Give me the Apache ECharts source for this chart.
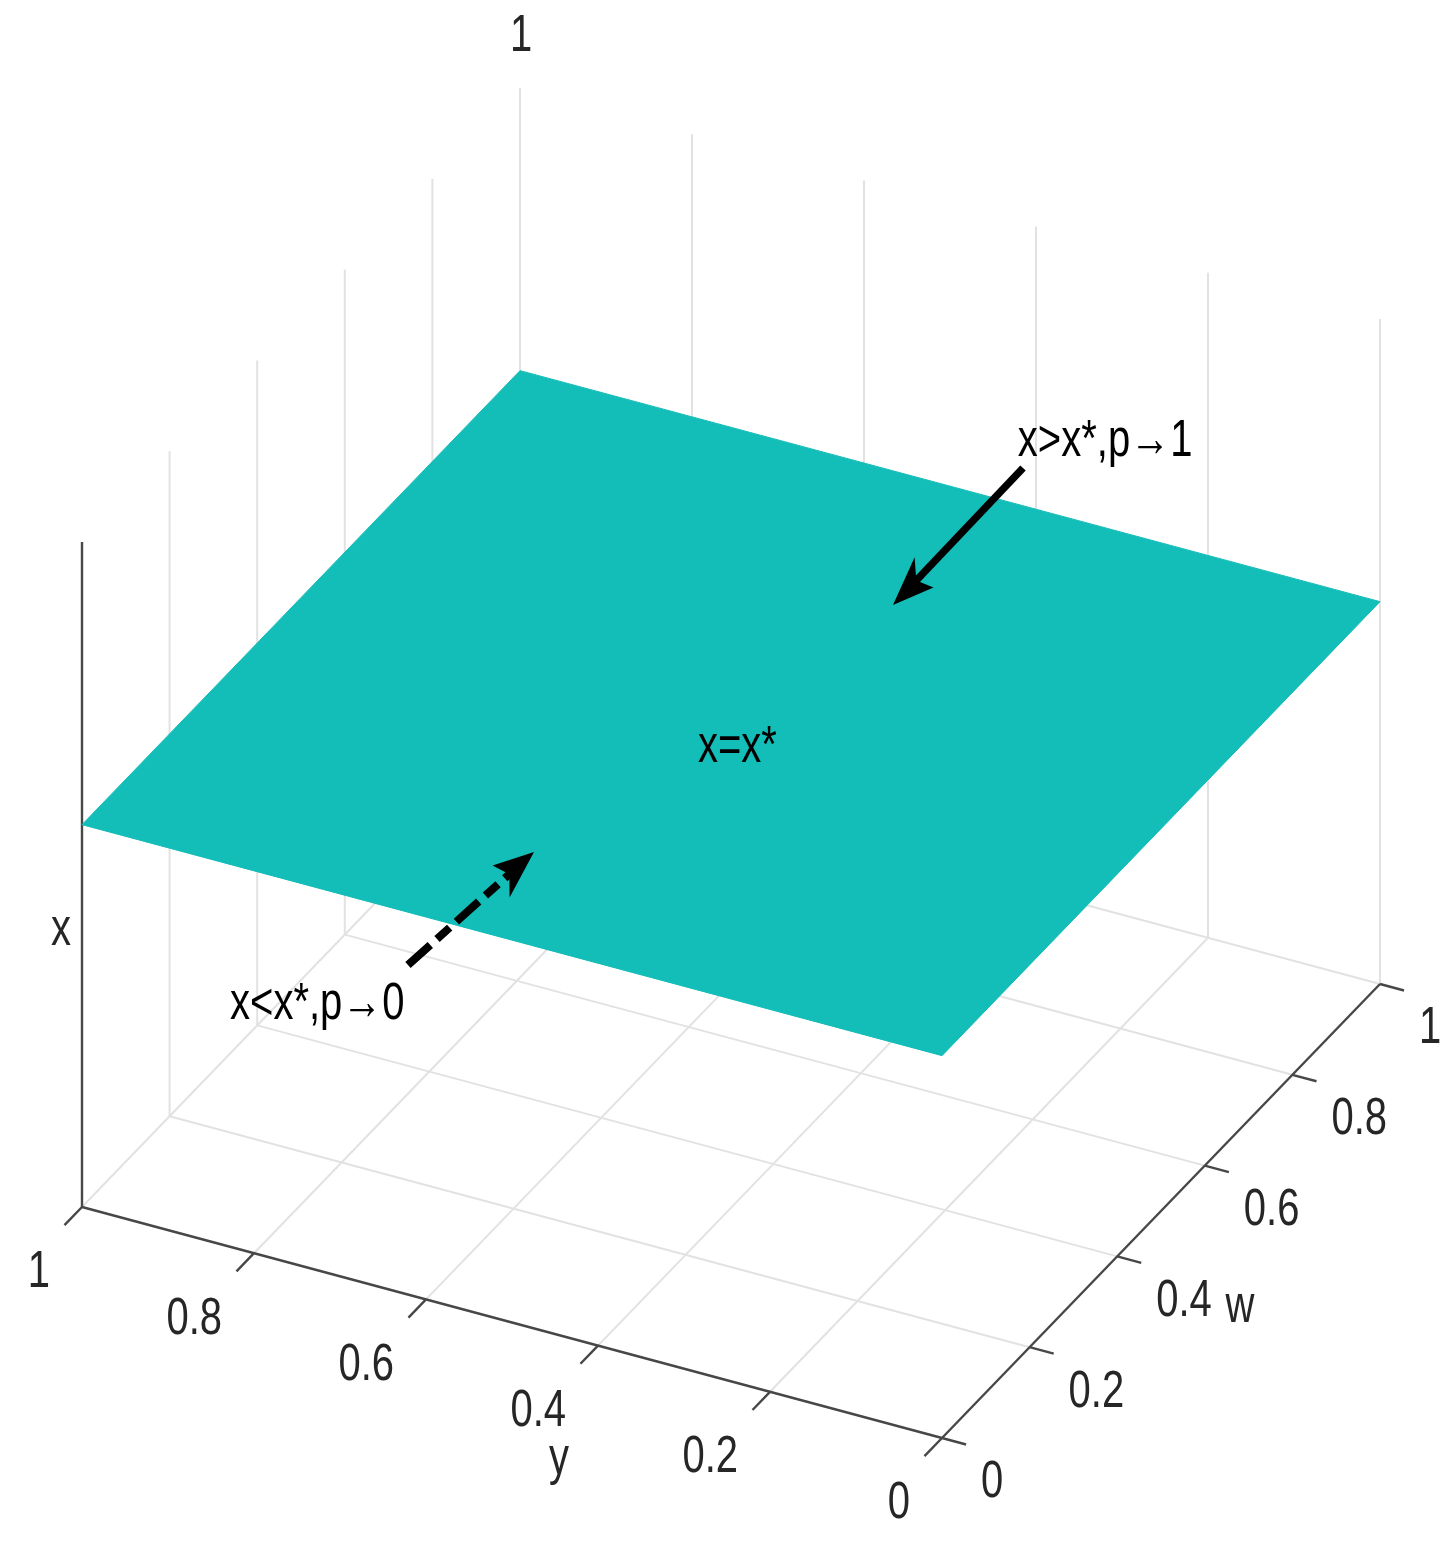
<!DOCTYPE html>
<html><head><meta charset="utf-8">
<script src="https://cdn.jsdelivr.net/npm/echarts@6/dist/echarts.min.js"></script>
<style>html,body{margin:0;padding:0;background:#fff}#chart{width:1455px;height:1553px}</style>
</head><body><div id="chart"></div>
<script>
// ---------------- data ----------------
const yTicks = [0, 0.2, 0.4, 0.6, 0.8, 1];
const yTickLabels = ['0', '0.2', '0.4', '0.6', '0.8', '1'];
const wTicks = [0, 0.2, 0.4, 0.6, 0.8, 1];
const wTickLabels = ['0', '0.2', '0.4', '0.6', '0.8', '1'];
const xTicks = [1];
const xTickLabels = ['1'];
const xStar = 0.575;                 // level of the plane x = x*
const surfY = [0, 1];
const surfW = [0, 1];
const surfX = [[xStar, xStar], [xStar, xStar]];
const annotationTexts = ['x>x*,p\u21921', 'x=x*', 'x<x*,p\u21920'];
const annotationPoints = [[0.396, 1.150, xStar], [0.463, 0.442, xStar], [0.622, -0.205, xStar]]; // (y, w, x)
const arrowFrom = [[0.4487, 1.066, xStar], [0.5739, -0.0924, xStar]];
const arrowTo   = [[0.4467, 0.7652, xStar], [0.5582, 0.1645, xStar]];

// ---------------- view (3D -> plane) ----------------
const VIEW = { origin: [942, 1438], ey: [-860, -231], ew: [438, -454], ex: [0, -665] };
function proj(p) {
  return [VIEW.origin[0] + p[0] * VIEW.ey[0] + p[1] * VIEW.ew[0] + p[2] * VIEW.ex[0],
          VIEW.origin[1] + p[0] * VIEW.ey[1] + p[1] * VIEW.ew[1] + p[2] * VIEW.ex[1]];
}
const ASPECT = 1.3;   // vertical stretch of the figure
const TICK_W = 0.04, TICK_Y = 0.028;
const FONT = '"Liberation Sans", Arial, sans-serif';
const TXT = '#262626';

// grid lines
const gridSegs = [];
yTicks.forEach(v => { if (v > 0) gridSegs.push([[v, 0, 0], [v, 1, 0]]); });
wTicks.forEach(v => { if (v > 0) gridSegs.push([[0, v, 0], [1, v, 0]]); });
wTicks.forEach(v => { if (v > 0) gridSegs.push([[1, v, 0], [1, v, 1]]); });
yTicks.forEach(v => { if (v < 1) gridSegs.push([[v, 1, 0], [v, 1, 1]]); });

// axes + ticks
const axisSegs = [[[0, 0, 0], [1, 0, 0]], [[0, 0, 0], [0, 1, 0]], [[1, 0, 0], [1, 0, 1]]];
yTicks.forEach(v => axisSegs.push([[v, 0, 0], [v, -TICK_W, 0]]));
wTicks.forEach(v => axisSegs.push([[0, v, 0], [-TICK_Y, v, 0]]));

// texts
const texts = [];
yTicks.forEach((v, i) => texts.push({ pos: [v, 0, 0], off: [-32, 66], text: yTickLabels[i], align: 'right', color: TXT }));
wTicks.forEach((v, i) => texts.push({ pos: [0, v, 0], off: [39, 45], text: wTickLabels[i], align: 'left', color: TXT }));
xTicks.forEach((v, i) => texts.push({ pos: [1, 1, v], off: [1, -51], text: xTickLabels[i], align: 'center', color: TXT }));
texts.push({ pos: [0.5, 0, 0], off: [47, 137], text: 'y', align: 'center', color: TXT });
texts.push({ pos: [0, 0.5, 0], off: [79, 97], text: 'w', align: 'center', color: TXT });
texts.push({ pos: [1, 0, 0.5], off: [-21, 56], text: 'x', align: 'center', color: TXT });
annotationTexts.forEach((t, i) => texts.push({ pos: annotationPoints[i], off: [0, 0], text: t, align: 'center', color: '#000' }));

function segSeries(segs, style, z) {
  return {
    type: 'custom', coordinateSystem: 'cartesian2d', z: z, silent: true, animation: false,
    data: segs.map(s => s[0].concat(s[1])),
    renderItem(params, api) {
      const a = api.coord(proj([api.value(0), api.value(1), api.value(2)]));
      const b = api.coord(proj([api.value(3), api.value(4), api.value(5)]));
      return { type: 'line', shape: { x1: a[0], y1: a[1], x2: b[0], y2: b[1] }, style: Object.assign({}, style) };
    }
  };
}

const cells = [];
for (let i = 0; i < surfY.length - 1; i++) for (let j = 0; j < surfW.length - 1; j++) cells.push([i, j]);

const arrowStyles = [
  { lineWidth: 7.5, lineDash: null },
  { lineWidth: 8, lineDash: [30, 9, 17, 9] }
];

const option = {
  backgroundColor: '#fff',
  animation: false,
  grid: { left: 0, right: 0, top: 0, bottom: 0 },
  xAxis: { type: 'value', min: 0, max: 1455, show: false },
  yAxis: { type: 'value', min: 0, max: 1553, inverse: true, show: false },
  series: [
    segSeries(gridSegs, { stroke: '#e2e2e2', lineWidth: 2 }, 1),
    segSeries(axisSegs, { stroke: '#474747', lineWidth: 2.4 }, 2),
    {
      type: 'custom', coordinateSystem: 'cartesian2d', z: 3, silent: true, animation: false,
      data: cells,
      renderItem(params, api) {
        const i = api.value(0), j = api.value(1);
        const pts = [
          [surfY[i], surfW[j], surfX[i][j]],
          [surfY[i + 1], surfW[j], surfX[i + 1][j]],
          [surfY[i + 1], surfW[j + 1], surfX[i + 1][j + 1]],
          [surfY[i], surfW[j + 1], surfX[i][j + 1]]
        ].map(p => api.coord(proj(p)));
        return { type: 'polygon', shape: { points: pts }, style: { fill: '#13BDB8', stroke: '#13BDB8', lineWidth: 1 } };
      }
    },
    {
      type: 'custom', coordinateSystem: 'cartesian2d', z: 4, silent: true, animation: false,
      data: arrowFrom.map((f, i) => f.concat(arrowTo[i])),
      renderItem(params, api) {
        const p0 = api.coord(proj([api.value(0), api.value(1), api.value(2)]));
        const p1 = api.coord(proj([api.value(3), api.value(4), api.value(5)]));
        const st = arrowStyles[params.dataIndex];
        // head geometry in unstretched space, then stretched back
        const q0 = [p0[0], p0[1] / ASPECT], q1 = [p1[0], p1[1] / ASPECT];
        const dx = q1[0] - q0[0], dy = q1[1] - q0[1];
        const len = Math.sqrt(dx * dx + dy * dy);
        const u = [dx / len, dy / len], n = [-u[1], u[0]];
        const L = 40, H = 15, N = 30;
        const S = p => [p[0], p[1] * ASPECT];
        const back = [q1[0] - u[0] * L, q1[1] - u[1] * L];
        const notch = [q1[0] - u[0] * N, q1[1] - u[1] * N];
        const lineEnd = S([q1[0] - u[0] * (N - 4), q1[1] - u[1] * (N - 4)]);
        const wa = S([back[0] + n[0] * H, back[1] + n[1] * H]);
        const wb = S([back[0] - n[0] * H, back[1] - n[1] * H]);
        return {
          type: 'group', children: [
            { type: 'line', shape: { x1: p0[0], y1: p0[1], x2: lineEnd[0], y2: lineEnd[1] },
              style: { stroke: '#000', lineWidth: st.lineWidth, lineDash: st.lineDash, lineCap: 'butt' } },
            { type: 'polygon', shape: { points: [p1, wa, S(notch), wb] }, style: { fill: '#000' } }
          ]
        };
      }
    },
    {
      type: 'custom', coordinateSystem: 'cartesian2d', z: 5, silent: true, animation: false,
      data: texts.map(t => t.pos),
      renderItem(params, api) {
        const t = texts[params.dataIndex];
        const p = api.coord(proj([api.value(0), api.value(1), api.value(2)]));
        return { type: 'text', x: p[0] + t.off[0], y: p[1] + t.off[1], scaleY: ASPECT,
          style: { text: t.text, fill: t.color, font: '40px ' + FONT, align: t.align, verticalAlign: 'middle' } };
      }
    }
  ]
};
const chart = echarts.init(document.getElementById('chart'));
chart.setOption(option);
</script>
</body></html>
